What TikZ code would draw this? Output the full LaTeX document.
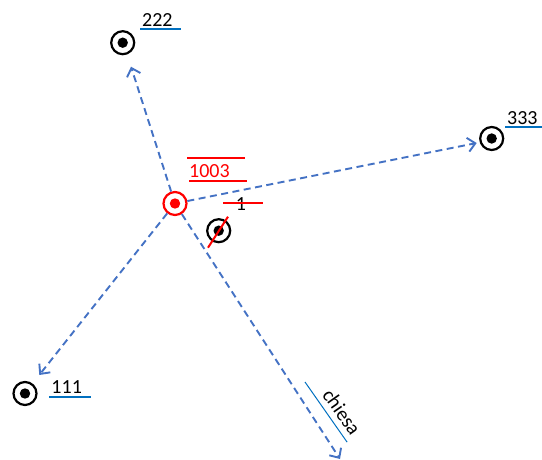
\documentclass[tikz,border=0pt]{standalone}
\usepackage{fontspec}
\setmainfont{Carlito}
\usetikzlibrary{arrows.meta, calc}

\definecolor{linkblue}{RGB}{68,114,196}
\definecolor{ulblue}{RGB}{0,112,192}

\tikzset{
  stop/.style={circle, draw=#1, fill=white, line width=2.2pt, minimum size=23pt, inner sep=0pt,
    path picture={\fill[#1] (path picture bounding box.center) circle (5.2pt);}},
  stop/.default=black,
  tag/.style={inner xsep=2pt, inner ysep=3pt, text depth=0pt, anchor=south west,
    font=\fontsize{20}{24}\selectfont},
  uline/.style={draw=ulblue, line width=2pt},
  rline/.style={draw=red, line width=2pt},
  link/.style={draw=linkblue, line width=1.9pt, dash pattern=on 7pt off 4.5pt,
    -{Straight Barb[length=7.5pt, width=14pt]}},
}

\begin{document}
\begin{tikzpicture}[x=1pt, y=-1pt]
    \useasboundingbox (0,0) rectangle (542,460);

    % arrow ends
    \coordinate (e222) at (131,66.7);
    \coordinate (e333) at (476.7,143);
    \coordinate (e111) at (39.3,375);
    \coordinate (echiesa) at (340,459);

    % stops
    \node[stop] (s222) at (122.7,42.7) {};
    \node[stop] (s333) at (491.7,138.5) {};
    \node[stop] (s111) at (25,393.5) {};
    \node[stop] (s1) at (218.7,230.7) {};
    \node[stop=red] (s1003) at (175,203.5) {};

    % links from 1003
    \draw[link] (s1003) -- (e222);
    \draw[link] (s1003) -- (e333);
    \draw[link] (s1003) -- (e111);
    \draw[link] (s1003) -- (echiesa);

    % labels
    \node[tag, text width=37pt] (l222) at (140,29.3) {222};
    \node[tag, text width=37pt] (l333) at (505,127.3) {333};
    \node[tag, text width=37pt] (l111) at (49.3,396.7) {111};
    \node[tag, text width=69pt, inner ysep=6pt, align=right, rotate=-55] (lchiesa) at (305,382) {chiesa};
    \draw[uline] (l222.south west) -- (l222.south east);
    \draw[uline] (l333.south west) -- (l333.south east);
    \draw[uline] (l111.south west) -- (l111.south east);
    \draw[uline, line width=1pt] (lchiesa.south west) -- (lchiesa.south east);

    % 1003, red
    \node[tag, text=red, text width=54pt, text height=16.4pt] (l1003) at (187,180.7) {1003};
    \draw[rline] (l1003.north west) -- (l1003.north east);
    \draw[rline] ([xshift=2pt]l1003.south west) -- ([xshift=2pt]l1003.south east);

    % 1, struck out
    \node[font=\fontsize{20}{24}\selectfont, anchor=base, inner sep=0pt] (l1) at (241,211) {1};
    \draw[rline] ($(l1.base)+(-18,-7.7)$) -- ++(40,0);
    \draw[rline] ($(s1)+(-10.7,17)$) -- ($(s1)+(9.3,-14)$);
\end{tikzpicture}
\end{document}
